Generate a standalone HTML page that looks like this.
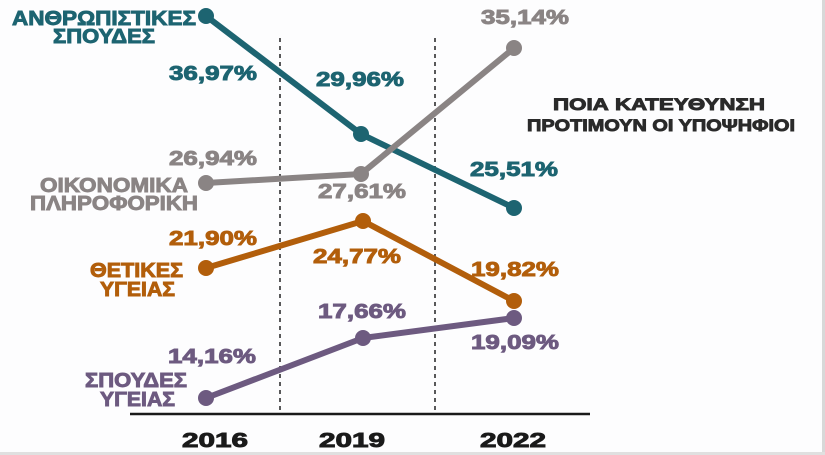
<!DOCTYPE html>
<html><head><meta charset="utf-8"><style>
html,body{margin:0;padding:0;background:#fdfdfe;}
svg{display:block;}
text{font-family:"Liberation Sans","DejaVu Sans",sans-serif;font-weight:bold;stroke-width:0.9;lengthAdjust:spacingAndGlyphs;}
</style></head><body>
<svg width="825" height="455" viewBox="0 0 825 455">
<rect width="825" height="455" fill="#fdfdfe"/>
<rect x="822" y="0" width="3" height="455" fill="#d8d8d8"/>
<rect x="0" y="452" width="825" height="3" fill="#e0e0e0"/>
<line x1="280" y1="38" x2="280" y2="412" stroke="#222" stroke-width="1.5" stroke-dasharray="4,4"/>
<line x1="435" y1="38" x2="435" y2="412" stroke="#222" stroke-width="1.5" stroke-dasharray="4,4"/>
<line x1="130" y1="414" x2="590" y2="414" stroke="#1a1a1a" stroke-width="2.5"/>
<g font-size="20" fill="#1a1a1a" stroke="#1a1a1a">
<text x="182" y="447" textLength="66" lengthAdjust="spacingAndGlyphs">2016</text>
<text x="319" y="447" textLength="66" lengthAdjust="spacingAndGlyphs">2019</text>
<text x="480" y="447" textLength="66" lengthAdjust="spacingAndGlyphs">2022</text>
</g>
<g stroke-width="6" fill="none" stroke-linejoin="round">
<polyline points="206,16 361,134 514,208" stroke="#1d6471"/>
<polyline points="206,183 361,174 514,48" stroke="#8a8484"/>
<polyline points="206,268 363,221 514,301" stroke="#b25e0b"/>
<polyline points="206,398 363,338 514,318" stroke="#6d5a80"/>
</g>
<g fill="#1d6471"><circle cx="206" cy="16" r="8"/><circle cx="361" cy="134" r="8"/><circle cx="514" cy="208" r="8"/></g>
<g fill="#8a8484"><circle cx="206" cy="183" r="8"/><circle cx="361" cy="174" r="8"/><circle cx="514" cy="48" r="8"/></g>
<g fill="#b25e0b"><circle cx="206" cy="268" r="8"/><circle cx="363" cy="221" r="8"/><circle cx="514" cy="301" r="8"/></g>
<g fill="#6d5a80"><circle cx="206" cy="398" r="8"/><circle cx="363" cy="338" r="8"/><circle cx="514" cy="318" r="8"/></g>
<g font-size="20" fill="#1d6471" stroke="#1d6471">
<text x="12" y="25" textLength="184" lengthAdjust="spacingAndGlyphs">ΑΝΘΡΩΠΙΣΤΙΚΕΣ</text>
<text x="53" y="43" textLength="102" lengthAdjust="spacingAndGlyphs">ΣΠΟΥΔΕΣ</text>
</g>
<g font-size="20" fill="#8a8484" stroke="#8a8484">
<text x="40" y="192" textLength="148" lengthAdjust="spacingAndGlyphs">ΟΙΚΟΝΟΜΙΚΑ</text>
<text x="30" y="210" textLength="168" lengthAdjust="spacingAndGlyphs">ΠΛΗΡΟΦΟΡΙΚΗ</text>
</g>
<g font-size="20" fill="#b25e0b" stroke="#b25e0b">
<text x="90" y="277" textLength="93" lengthAdjust="spacingAndGlyphs">ΘΕΤΙΚΕΣ</text>
<text x="100" y="296" textLength="75" lengthAdjust="spacingAndGlyphs">ΥΓΕΙΑΣ</text>
</g>
<g font-size="20" fill="#6d5a80" stroke="#6d5a80">
<text x="85" y="387" textLength="102" lengthAdjust="spacingAndGlyphs">ΣΠΟΥΔΕΣ</text>
<text x="100" y="406" textLength="75" lengthAdjust="spacingAndGlyphs">ΥΓΕΙΑΣ</text>
</g>
<g font-size="20" text-anchor="middle">
<text x="213" y="80" fill="#1d6471" stroke="#1d6471" textLength="88" lengthAdjust="spacingAndGlyphs">36,97%</text>
<text x="360" y="86" fill="#1d6471" stroke="#1d6471" textLength="88" lengthAdjust="spacingAndGlyphs">29,96%</text>
<text x="514" y="176" fill="#1d6471" stroke="#1d6471" textLength="88" lengthAdjust="spacingAndGlyphs">25,51%</text>
<text x="213" y="165" fill="#8a8484" stroke="#8a8484" textLength="88" lengthAdjust="spacingAndGlyphs">26,94%</text>
<text x="362" y="198" fill="#8a8484" stroke="#8a8484" textLength="88" lengthAdjust="spacingAndGlyphs">27,61%</text>
<text x="525" y="24" fill="#8a8484" stroke="#8a8484" textLength="88" lengthAdjust="spacingAndGlyphs">35,14%</text>
<text x="213" y="245" fill="#b25e0b" stroke="#b25e0b" textLength="88" lengthAdjust="spacingAndGlyphs">21,90%</text>
<text x="357" y="263" fill="#b25e0b" stroke="#b25e0b" textLength="88" lengthAdjust="spacingAndGlyphs">24,77%</text>
<text x="515" y="276" fill="#b25e0b" stroke="#b25e0b" textLength="88" lengthAdjust="spacingAndGlyphs">19,82%</text>
<text x="212" y="363" fill="#6d5a80" stroke="#6d5a80" textLength="88" lengthAdjust="spacingAndGlyphs">14,16%</text>
<text x="362" y="318" fill="#6d5a80" stroke="#6d5a80" textLength="88" lengthAdjust="spacingAndGlyphs">17,66%</text>
<text x="515" y="349" fill="#6d5a80" stroke="#6d5a80" textLength="88" lengthAdjust="spacingAndGlyphs">19,09%</text>
</g>
<g font-size="17" fill="#2a2a2a" stroke="#2a2a2a" stroke-width="0.5">
<text x="553" y="110" textLength="212" lengthAdjust="spacingAndGlyphs">ΠΟΙΑ ΚΑΤΕΥΘΥΝΣΗ</text>
<text x="527" y="131" textLength="268" lengthAdjust="spacingAndGlyphs">ΠΡΟΤΙΜΟΥΝ ΟΙ ΥΠΟΨΗΦΙΟΙ</text>
</g>
</svg>
</body></html>
